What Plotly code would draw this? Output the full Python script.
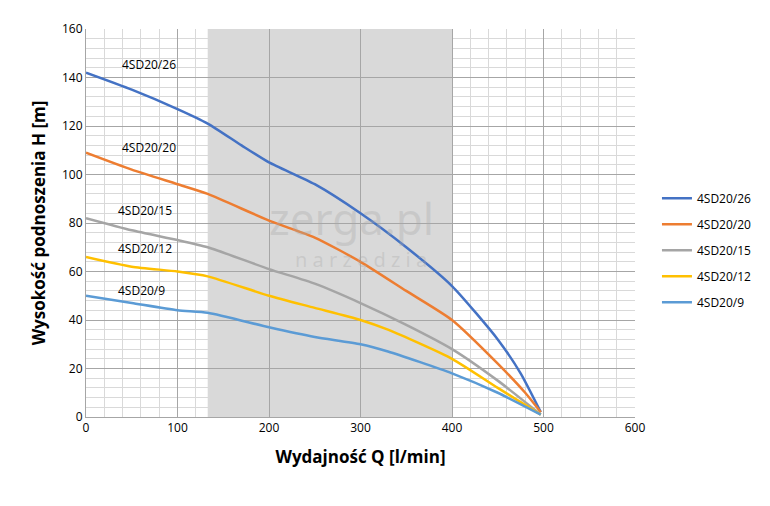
import plotly.graph_objects as go

names = ["4SD20/26", "4SD20/20", "4SD20/15", "4SD20/12", "4SD20/9"]
colors = ["#4472C4", "#ED7D31", "#A5A5A5", "#FFC000", "#5B9BD5"]
q = [
    [0, 50, 100, 133, 170, 200, 250, 300, 350, 400, 450, 475, 497],
    [0, 50, 100, 133, 200, 250, 300, 350, 400, 450, 480, 497],
    [0, 50, 100, 133, 200, 250, 300, 350, 400, 450, 497],
    [0, 50, 100, 133, 200, 250, 300, 330, 400, 450, 497],
    [0, 50, 100, 133, 200, 250, 300, 330, 400, 450, 497],
]
h = [
    [142, 135, 127, 121, 112, 105, 96, 84, 70, 54, 32, 18, 2],
    [109, 102, 96, 92, 81, 74, 64, 52, 40, 22, 10, 2],
    [82, 77, 73, 70, 61, 55, 47, 38, 28, 15, 1],
    [66, 62, 60, 58, 50, 45, 40, 36, 24, 12, 1],
    [50, 47, 44, 43, 37, 33, 30, 27, 18, 10, 1],
]
label_pos = [(37, 141), (37, 107), (33, 81), (33, 65), (33, 48)]
band = (133, 400)

fig = go.Figure()
fig.add_vrect(x0=band[0], x1=band[1], fillcolor="#D9D9D9", line_width=0, layer="below")

for n, c, xs, ys, (lx, ly) in zip(names, colors, q, h, label_pos):
    fig.add_trace(go.Scatter(x=xs, y=ys, mode="lines", name=n, legendgroup=n,
                             line=dict(color=c, width=2.5, shape="spline", smoothing=0.6)))
    fig.add_annotation(x=lx, y=ly, text=n, showarrow=False, xanchor="left", yanchor="bottom",
                       font=dict(size=12, color="#000"))

fig.add_annotation(x=290, y=82, text="zerga.pl", showarrow=False,
                   font=dict(size=44, color="rgba(170,170,170,0.35)", family="Noto Sans"))
fig.add_annotation(x=300, y=65, text="n a r z ę d z i a", showarrow=False,
                   font=dict(size=20, color="rgba(170,170,170,0.35)", family="Noto Sans"))

fig.update_xaxes(range=[0, 600], dtick=100, showgrid=True, gridcolor="#A6A6A6", gridwidth=1,
                 minor=dict(dtick=20, showgrid=True, gridcolor="#D9D9D9"),
                 showline=True, linecolor="#A6A6A6", ticks="", zeroline=False,
                 title=dict(text="<b>Wydajność Q [l/min]</b>", font=dict(size=17, color="#000")),
                 tickfont=dict(size=12, color="#000"))
fig.update_yaxes(range=[0, 160], dtick=20, showgrid=True, gridcolor="#A6A6A6", gridwidth=1,
                 minor=dict(dtick=4, showgrid=True, gridcolor="#D9D9D9"),
                 showline=True, linecolor="#A6A6A6", ticks="", zeroline=False,
                 title=dict(text="<b>Wysokość podnoszenia H [m]</b>", font=dict(size=17, color="#000"), standoff=12),
                 tickfont=dict(size=12, color="#000"))

fig.update_layout(width=770, height=506, plot_bgcolor="white", paper_bgcolor="white",
                  font=dict(family="Open Sans"),
                  margin=dict(l=78, r=143, t=18, b=97),
                  legend=dict(x=1.04, y=0.43, yanchor="middle", font=dict(size=12, color="#000"),
                              traceorder="grouped", tracegroupgap=7))

fig.write_html("out.html")
